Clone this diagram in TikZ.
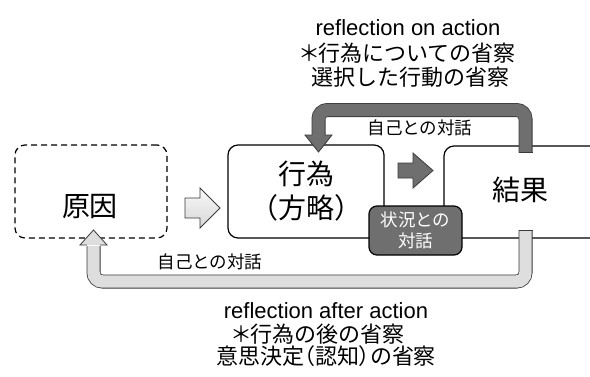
\documentclass[tikz,border=0pt]{standalone}
\usepackage{fontspec}
\setmainfont{Liberation Sans}
\newfontfamily\jp{Noto Sans CJK JP}
\newfontfamily\jpp[RawFeature=+palt]{Noto Sans CJK JP}
\definecolor{dgray}{HTML}{6F6F6F}
\definecolor{lgray}{HTML}{DEDEDE}
\definecolor{edgegray}{HTML}{3A3A3A}
\begin{document}
\begin{tikzpicture}[x=1pt,y=-1pt,
  boxst/.style={draw=black, line width=1.2pt, rounded corners=10pt, inner sep=0pt},
  bigjp/.style={font=\jp\fontsize{28}{34}\selectfont},
  lbl/.style={font=\jp\fontsize{17.5}{20.5}\selectfont, inner sep=0pt},
  entxt/.style={font=\fontsize{22}{26}\selectfont, inner sep=0pt},
  jptxt/.style={font=\jp\fontsize{22}{26}\selectfont, inner sep=0pt},
  bendarrow/.style={draw=edgegray, line width=0.8pt, double distance=12.4pt, rounded corners=9pt},
  headedge/.style={draw=edgegray, line width=0.8pt, line join=miter},
  blockarrow/.style={draw=edgegray, line width=0.8pt, line join=miter}]
\useasboundingbox (0,0) rectangle (590,376);
\fill[white] (0,0) rectangle (590,376);

% result box (cut off at the right edge)
\begin{scope}
\clip (0,0) rectangle (590,376);
\node[boxst, minimum width=216pt, minimum height=92pt] (resbox) at (552,192) {};
\end{scope}
\node[bigjp] (res) at (520,190) {結果};

% cause box (dashed)
\node[boxst, dash pattern=on 6pt off 4pt, minimum width=152pt, minimum height=93pt] (cause) at (91,191.5) {};
\node[bigjp] (causetxt) at (90,207) {原因};

% action box
\node[boxst, minimum width=156pt, minimum height=93pt, bigjp, align=center] (act) at (306,191.5) {行為\\（方略）};

% situation box
\node[boxst, fill=dgray, rounded corners=8pt, minimum width=93pt, minimum height=49pt, lbl, text=white, align=center] (sit) at (415.5,230.5) {状況との\\対話};

% light block arrow cause -> action
\shade[top color=gray!4, bottom color=gray!32, blockarrow]
  (185,198) -- (200,198) -- (200,188) -- (220,208) -- (200,228) -- (200,218) -- (185,218) -- cycle;

% dark block arrow action -> result
\draw[fill=dgray, blockarrow]
  (398,163) -- (413,163) -- (413,153) -- (433,170.5) -- (413,188) -- (413,178) -- (398,178) -- cycle;

% top bent arrow: result -> action
\coordinate (tA) at (525.5,152.5);
\coordinate (tB) at (318.5,136);
\draw[bendarrow, double=dgray] (tA) |- (420,110) -| (tB);
\fill[dgray] (305,135) -- (318.5,152) -- (332,135) -- cycle;
\draw[headedge] (311.8,135) -- (305,135) -- (318.5,152) -- (332,135) -- (325.2,135);
\draw[headedge] (518.5,152.5) -- (532.5,152.5);
\node[lbl] (toplbl) at (420,128) {自己との対話};

% bottom bent arrow: result -> cause
\coordinate (bA) at (525.5,230);
\coordinate (bB) at (93.5,246);
\draw[bendarrow, double=lgray] (bA) |- (300,281.5) -| (bB);
\fill[lgray] (80,245) -- (93.5,230) -- (107,245) -- cycle;
\draw[headedge] (86.8,245) -- (80,245) -- (93.5,230) -- (107,245) -- (100.2,245);
\draw[headedge] (518.5,230) -- (532.5,230);
\node[lbl] (botlbl) at (210,262) {自己との対話};

% top caption
\node[entxt] (t1) at (408,27.5) {reflection on action};
\node[jptxt] (t2) at (408,53) {{\jpp ＊}行為についての省察};
\node[jptxt] (t3) at (410,77) {選択した行動の省察};

% bottom caption
\node[entxt] (b1) at (326,311) {reflection after action};
\node[jptxt] (b2) at (318,334.5) {{\jpp ＊}行為の後の省察};
\node[jptxt] (b3) at (326,356.5) {意思決定{\jpp（}認知{\jpp）}の省察};
\end{tikzpicture}
\end{document}
